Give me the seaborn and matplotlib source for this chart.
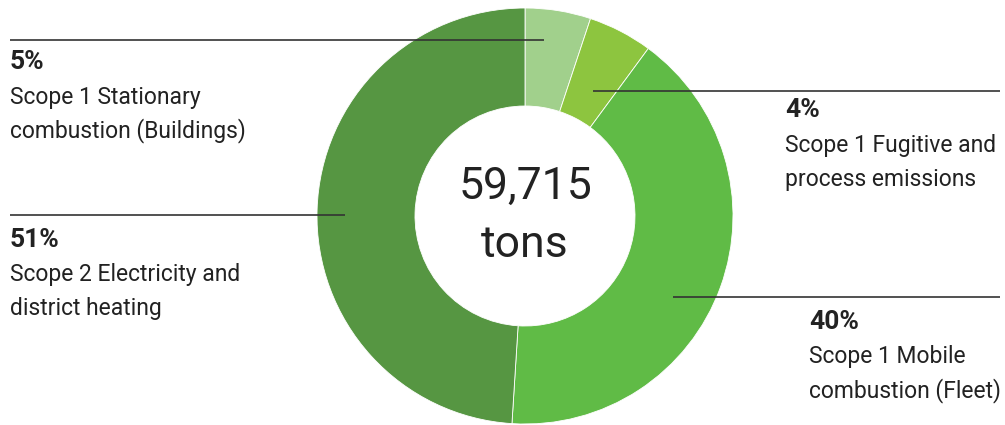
import matplotlib
matplotlib.use("Agg")
import matplotlib.pyplot as plt
import seaborn as sns

# slice shares as drawn (clockwise from 12 o'clock)
categories = ["Scope 1 Stationary combustion (Buildings)",
              "Scope 1 Fugitive and process emissions",
              "Scope 1 Mobile combustion (Fleet)",
              "Scope 2 Electricity and district heating"]
shares = [5.1, 5.0, 40.9, 49.0]
pct_labels = ["5%", "4%", "40%", "51%"]
desc_labels = ["Scope 1 Stationary\ncombustion (Buildings)",
               "Scope 1 Fugitive and\nprocess emissions",
               "Scope 1 Mobile\ncombustion (Fleet)",
               "Scope 2 Electricity and\ndistrict heating"]
colors = ["#a1d08c", "#8dc53f", "#60bb46", "#569642"]
total_value = "59,715"
total_unit = "tons"

sns.set_theme(style="white")
plt.rcParams["font.family"] = ["Roboto", "DejaVu Sans"]

W, H = 1005, 425
fig = plt.figure(figsize=(W / 100, H / 100), dpi=100)
ax = fig.add_axes([0, 0, 1, 1])
ax.set_xlim(0, W)
ax.set_ylim(0, H)
ax.set_aspect("equal")
ax.axis("off")


def py(y):
    # pixel row -> data y
    return H - y


cx, cy, r = 525, py(216), 208
ax.pie(shares, colors=colors, startangle=90, counterclock=False,
       center=(cx, cy), radius=r,
       wedgeprops=dict(width=r - 110, edgecolor="white", linewidth=0.6))
ax.set_xlim(0, W)
ax.set_ylim(0, H)

ax.text(cx, py(187), total_value, ha="center", va="center", fontsize=32,
        fontweight="normal", color="#222222")
ax.text(cx, py(245), total_unit, ha="center", va="center", fontsize=32,
        fontweight="normal", color="#222222")

# leader lines: (x0, x1, y) in pixels, and label anchor
lines = [(10, 544, 40), (593, 1000, 91), (673, 1000, 297), (10, 345, 215)]
anchors = [(10, 62), (785, 110), (809, 322), (10, 240)]
for (x0, x1, y), (tx, ty), pct, desc in zip(lines, anchors, pct_labels, desc_labels):
    ax.plot([x0, x1], [py(y), py(y)], color="#333333", lw=1.2, solid_capstyle="butt")
    ax.text(tx, py(ty), pct, ha="left", va="center", fontsize=19,
            fontweight="bold", color="#222222")
    for i, line in enumerate(desc.split("\n")):
        ax.text(tx, py(ty + 35 + 34 * i), line, ha="left", va="center",
                fontsize=16.5, color="#222222")

fig.savefig("out.png", dpi=100)
